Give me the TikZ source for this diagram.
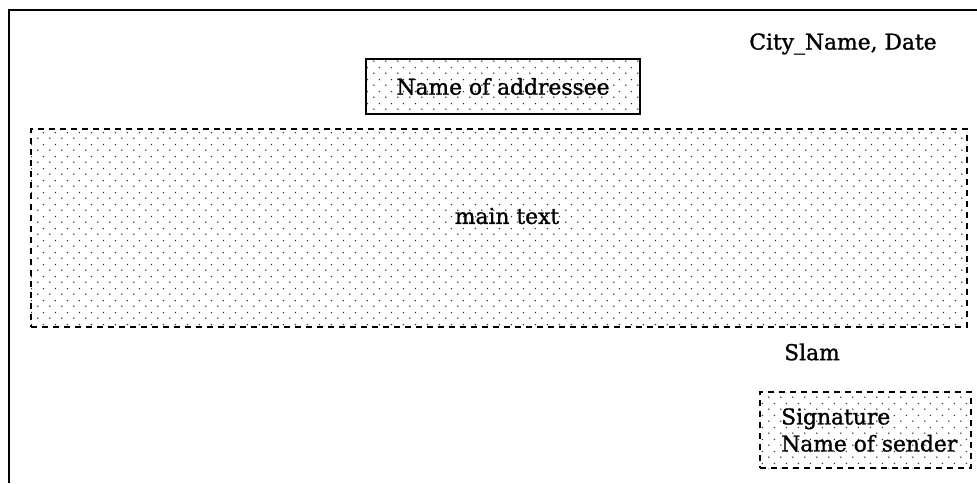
\documentclass[tikz,border=0pt]{standalone}
\usepackage{fontspec}
\setmainfont{DejaVu Serif}[FakeBold=1.2]
\usetikzlibrary{patterns.meta}

% sparse staggered dot raster used as the box fill
\pgfdeclarepattern{
  name=dotraster, type=uncolored,
  bottom left={\pgfpoint{0pt}{0pt}},
  top right={\pgfpoint{11.6pt}{11.6pt}},
  tile size={\pgfpoint{11.6pt}{11.6pt}},
  code={
    \pgfpathcircle{\pgfpoint{2.9pt}{2.9pt}}{0.8pt}
    \pgfpathcircle{\pgfpoint{8.7pt}{8.7pt}}{0.8pt}
    \pgfusepath{fill}
  }
}

\tikzset{
  frameline/.style={line width=2pt, black},
  dotfill/.style={pattern=dotraster, pattern color=black!80},
  solidbox/.style={draw, line width=1.3pt, dotfill, inner sep=0pt},
  dashbox/.style={draw, line width=1.2pt, dash pattern=on 6pt off 5pt, dotfill, inner sep=0pt},
  lbl/.style={font=\fontsize{21.8}{27}\selectfont, inner sep=0pt},
}

\begin{document}
\begin{tikzpicture}[x=1pt, y=-1pt]
  \useasboundingbox (0,0) rectangle (977,483);

  % page edge (top and left)
  \coordinate (pageTL) at (9,10);
  \coordinate (pageTR) at (977,10);
  \coordinate (pageBL) at (9,483);
  \draw[frameline] (pageTR) -- (pageTL) -- (pageBL);

  % place and date
  \node[lbl] (citydate) at (843,44) {City\_Name, Date};

  % addressee
  \node[solidbox, minimum width=274pt, minimum height=55pt] (addressee) at (503,86.5) {};
  \node[lbl] (addresseetext) at (addressee.center) {Name of addressee};

  % body of the letter
  \node[dashbox, minimum width=936pt, minimum height=198pt] (mainbox) at (499,228) {};
  \node[lbl] (maintext) at (507,216) {main text};

  % closing
  \node[lbl] (slam) at (812,352) {Slam};

  % signature block
  \node[dashbox, minimum width=211pt, minimum height=76pt] (sigbox) at (865.5,430) {};
  \node[lbl, anchor=west, align=left] (sigtext) at (781,430) {Signature\\Name of sender};
\end{tikzpicture}
\end{document}
